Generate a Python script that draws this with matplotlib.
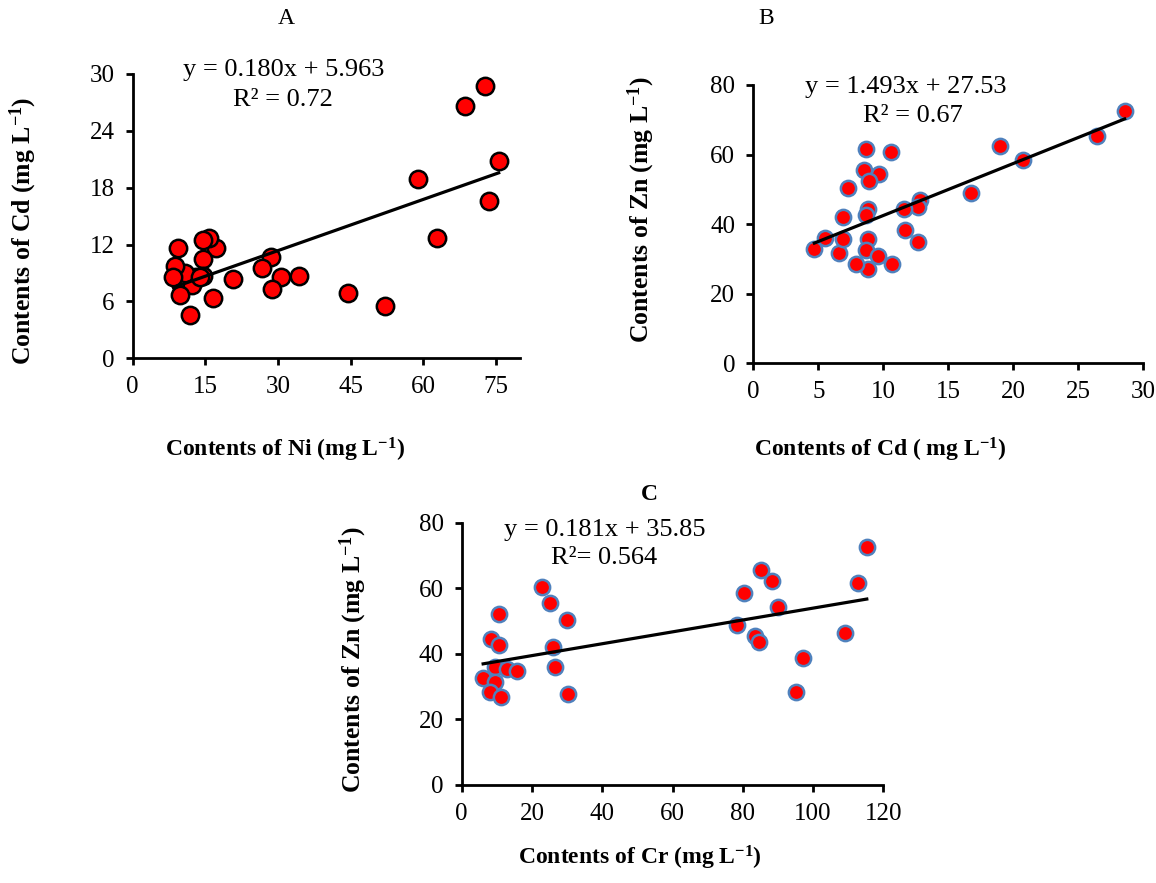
import matplotlib
matplotlib.use('Agg')
import matplotlib.pyplot as plt
import numpy as np

plt.rcParams['font.family'] = ['Liberation Serif', 'DejaVu Serif']
plt.rcParams['mathtext.default'] = 'regular'

# Panel A: Ni vs Cd
ni_a = [72.8, 68.7, 75.6, 58.9, 73.5, 62.9, 52.1, 44.4, 34.3, 30.6, 28.6, 26.7, 28.7, 20.7,
        16.6, 17.3, 15.8, 14.5, 14.5, 14.5, 13.0, 12.3, 10.8, 8.7, 8.4, 9.4, 9.7, 11.8, 14.0]
cd_a = [28.7, 26.6, 20.8, 18.9, 16.6, 12.7, 5.5, 6.9, 8.7, 8.6, 10.7, 9.5, 7.3, 8.4,
        6.4, 11.6, 12.7, 12.5, 10.5, 8.7, 8.6, 7.7, 9.0, 9.7, 8.6, 11.6, 6.7, 4.6, 8.6]
fit_a = (0.180, 5.963)

# Panel B: Cd vs Zn
cd_b = [28.6, 26.5, 19.0, 20.8, 16.8, 12.8, 12.7, 11.6, 11.7, 12.7, 10.7, 10.6, 8.66, 8.55, 9.7,
        8.9, 7.3, 8.8, 8.66, 6.9, 8.8, 8.66, 9.6, 8.8, 7.9, 6.6, 6.9, 5.5, 4.7]
zn_b = [72.6, 65.4, 62.5, 58.5, 48.9, 46.8, 44.9, 44.3, 38.4, 34.8, 28.5, 60.6, 61.7, 55.6, 54.4,
        52.5, 50.4, 44.3, 42.7, 41.9, 35.8, 32.6, 30.9, 27.0, 28.5, 31.7, 35.8, 36.0, 32.9]
fit_b = (1.493, 27.53)

# Panel C: Cr vs Zn
cr_c = [115.3, 112.7, 109.1, 97.2, 95.1, 85.2, 88.2, 90.1, 80.4, 78.3, 83.5, 84.6, 22.9, 25.1,
        29.9, 26.1, 26.6, 30.3, 10.6, 8.3, 10.6, 9.5, 12.8, 15.8, 6.1, 9.5, 8.1, 11.2]
zn_c = [72.7, 61.7, 46.4, 38.6, 28.5, 65.5, 62.3, 54.4, 58.6, 48.8, 45.5, 43.7, 60.5, 55.4,
        50.3, 42.0, 35.9, 27.7, 52.3, 44.4, 42.7, 36.1, 35.3, 34.8, 32.7, 31.5, 28.5, 26.9]
fit_c = (0.181, 35.85)

fig = plt.figure(figsize=(11.56, 8.83), dpi=100)


def panel(rect, x, y, fit, xlim, xticks, ylim, yticks, edge, ms):
    ax = fig.add_axes(rect)
    ax.plot(x, y, 'o', color='#ff0000', markeredgecolor=edge, markersize=ms,
            markeredgewidth=1.8, linestyle='none', zorder=3, clip_on=False)
    xs = np.array([min(x), max(x)])
    ax.plot(xs, fit[0] * xs + fit[1], color='black', linewidth=2.3, zorder=4)
    ax.set_xlim(*xlim)
    ax.set_ylim(*ylim)
    ax.set_xticks(xticks)
    ax.set_yticks(yticks)
    for s in ['top', 'right']:
        ax.spines[s].set_visible(False)
    for s in ['left', 'bottom']:
        ax.spines[s].set_linewidth(2.0)
    ax.tick_params(direction='out', length=5, width=2.0, labelsize=18, pad=8)
    return ax


panel([0.1148, 0.5942, 0.335, 0.322], ni_a, cd_a, fit_a, (0, 80), [0, 15, 30, 45, 60, 75],
      (0, 30), [0, 6, 12, 18, 24, 30], 'black', 12.5)
panel([0.6517, 0.5886, 0.3369, 0.3152], cd_b, zn_b, fit_b, (0, 30), [0, 5, 10, 15, 20, 25, 30],
      (0, 80), [0, 20, 40, 60, 80], '#4f81bd', 11)
panel([0.3994, 0.111, 0.3647, 0.297], cr_c, zn_c, fit_c, (0, 120), [0, 20, 40, 60, 80, 100, 120],
      (0, 80), [0, 20, 40, 60, 80], '#4f81bd', 11)


def ftext(px, py, s, **kw):
    fig.text(px / 1156, 1 - py / 883, s, ha='center', va='center', **kw)


lab = dict(fontsize=17, fontweight='bold')
ylab = dict(fontsize=18.5, fontweight='bold', rotation=90)
ftext(285, 450, 'Contents of Ni (mg L$^{-1}$)', **lab)
ftext(23, 231, 'Contents of Cd (mg L$^{-1}$)', **ylab)
ftext(880, 450, 'Contents of Cd ( mg L$^{-1}$)', **lab)
ftext(641, 210, 'Contents of Zn (mg L$^{-1}$)', **ylab)
ftext(640, 858, 'Contents of Cr (mg L$^{-1}$)', **lab)
ftext(353, 660, 'Contents of Zn (mg L$^{-1}$)', **ylab)

eq = dict(fontsize=19)
ftext(284, 70, 'y = 0.180x + 5.963', **eq)
ftext(283, 100, 'R² = 0.72', **eq)
ftext(906, 87, 'y = 1.493x + 27.53', **eq)
ftext(913, 116, 'R² = 0.67', **eq)
ftext(605, 530, 'y = 0.181x + 35.85', **eq)
ftext(604, 558, 'R²= 0.564', **eq)

ftext(286, 18, 'A', fontsize=17)
ftext(766, 18, 'B', fontsize=17)
ftext(649, 494, 'C', fontsize=17, fontweight='bold')

fig.savefig('out.png', dpi=100)
